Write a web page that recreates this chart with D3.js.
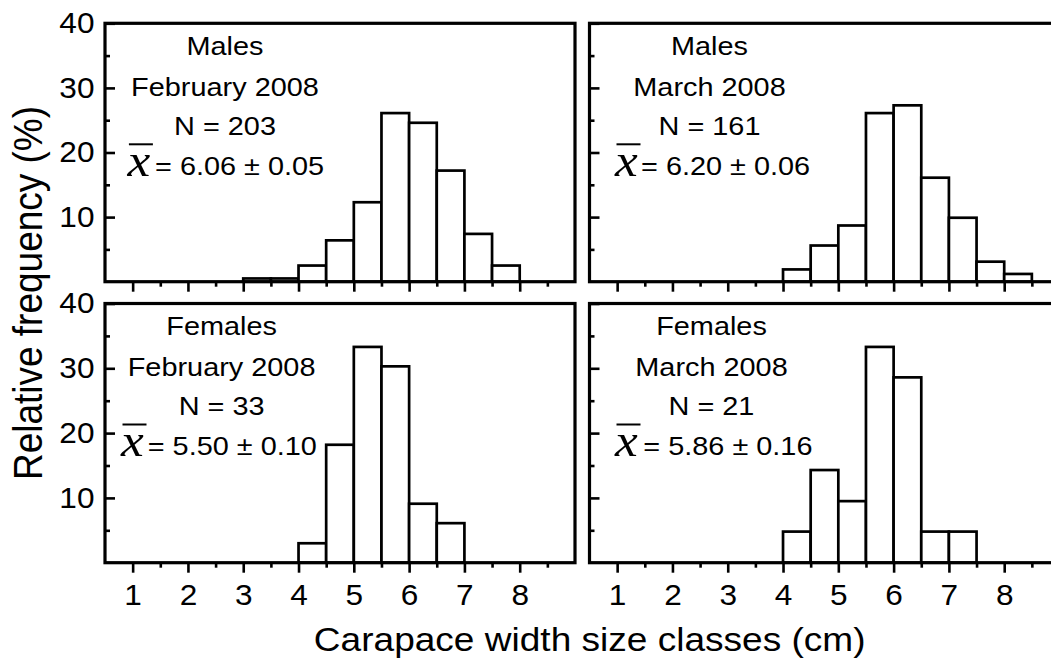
<!DOCTYPE html>
<html>
<head>
<meta charset="utf-8">
<script src="https://cdn.jsdelivr.net/npm/d3@7"></script>
<style>
  html, body { margin: 0; padding: 0; background: #fff; }
  svg { display: block; }
  text { fill: #000; }
</style>
</head>
<body>
<svg id="chart" width="1051" height="661"></svg>
<script>
// Size classes (lower edge of each 0.5 cm class)
const classStarts = [3.0, 3.5, 4.0, 4.5, 5.0, 5.5, 6.0, 6.5, 7.0, 7.5, 8.0];
const classWidth = 0.5;

// Relative frequency (%) per size class
const malesFeb   = [0.5, 0.5, 2.5, 6.4, 12.3, 26.1, 24.6, 17.2, 7.4, 2.5, 0];
const malesMar   = [0, 0, 1.9, 5.6, 8.7, 26.1, 27.3, 16.1, 9.9, 3.1, 1.2];
const femalesFeb = [0, 0, 3.0, 18.2, 33.3, 30.3, 9.1, 6.1, 0, 0, 0];
const femalesMar = [0, 0, 4.8, 14.3, 9.5, 33.3, 28.6, 4.8, 4.8, 0, 0];

// Panel annotations
const panelSex   = ["Males", "Males", "Females", "Females"];
const panelMonth = ["February 2008", "March 2008", "February 2008", "March 2008"];
const panelN     = ["N = 203", "N = 161", "N = 33", "N = 21"];
const panelMean  = ["= 6.06 ± 0.05", "= 6.20 ± 0.06", "= 5.50 ± 0.10", "= 5.86 ± 0.16"];

// Axis ticks
const xTicks = [1, 2, 3, 4, 5, 6, 7, 8];
const xMinorTicks = [1.5, 2.5, 3.5, 4.5, 5.5, 6.5, 7.5, 8.5];
const yTicks = [10, 20, 30, 40];
const yMinorTicks = [5, 15, 25, 35];
const xDomain = [0.5, 9.0];
const yDomain = [0, 40];

const xTitle = "Carapace width size classes (cm)";
const yTitle = "Relative frequency (%)";

// Layout
const SANS = '"Liberation Sans", Arial, sans-serif';
const SERIF = '"Liberation Serif", "Times New Roman", serif';
const SX = 1.09; // horizontal stretch of the lettering
const cols = [[105, 575], [589.5, 1059.5]];
const rows = [[281.7, 23.3], [562.7, 303.5]];

const panels = [
  { vals: malesFeb,   col: 0, row: 0, cx: 225,   xbar: 127.4, eq: 155 },
  { vals: malesMar,   col: 1, row: 0, cx: 709.5, xbar: 615,   eq: 641 },
  { vals: femalesFeb, col: 0, row: 1, cx: 221.6, xbar: 121,   eq: 147.7 },
  { vals: femalesMar, col: 1, row: 1, cx: 711.5, xbar: 615,   eq: 643.3 }
];

const svg = d3.select("#chart");

function stretchedText(parent, x, y, str, size, anchor, extra) {
  const g = parent.append("g").attr("transform", `translate(${x},${y}) scale(${SX},1)${extra || ""}`);
  return g.append("text")
    .style("font-family", SANS)
    .style("font-size", size + "px")
    .attr("text-anchor", anchor)
    .text(str);
}

panels.forEach((p, i) => {
  const x = d3.scaleLinear().domain(xDomain).range(cols[p.col]);
  const y = d3.scaleLinear().domain(yDomain).range(rows[p.row]);
  const g = svg.append("g");

  // bars
  const bars = classStarts.map((s, k) => ({ s, v: p.vals[k] })).filter(d => d.v > 0);
  g.selectAll("rect.bar").data(bars).enter().append("rect")
    .attr("class", "bar")
    .attr("x", d => x(d.s))
    .attr("y", d => y(d.v))
    .attr("width", d => x(d.s + classWidth) - x(d.s))
    .attr("height", d => y(0) - y(d.v))
    .attr("fill", "#fff")
    .attr("stroke", "#000")
    .attr("stroke-width", 2.7);

  // x axis: major and minor ticks pointing outward
  const y0 = y(0);
  const xMajor = d3.axisBottom(x).tickValues(xTicks).tickSize(10).tickPadding(12)
    .tickFormat(p.row === 1 ? d3.format("d") : () => "");
  const xMinor = d3.axisBottom(x).tickValues(xMinorTicks).tickSize(5).tickFormat(() => "");
  [xMajor, xMinor].forEach(ax => {
    const a = g.append("g").attr("transform", `translate(0,${y0})`).call(ax);
    a.select(".domain").remove();
    a.selectAll("line").attr("stroke", "#000").attr("stroke-width", 2.6);
    a.selectAll("text").style("font-size", "29px").style("font-family", SANS).attr("fill", "#000")
      .attr("transform", `scale(${SX},1)`);
  });

  // y axis: ticks pointing inward
  const x0 = x(xDomain[0]);
  const yMajor = d3.axisLeft(y).tickValues(yTicks).tickSize(-10).tickPadding(10.5)
    .tickFormat(p.col === 0 ? d3.format("d") : () => "");
  const yMinor = d3.axisLeft(y).tickValues(yMinorTicks).tickSize(-5).tickFormat(() => "");
  [yMajor, yMinor].forEach(ax => {
    const a = g.append("g").attr("transform", `translate(${x0},0)`).call(ax);
    a.select(".domain").remove();
    a.selectAll("line").attr("stroke", "#000").attr("stroke-width", 2.6);
    a.selectAll("text").style("font-size", "29px").style("font-family", SANS).attr("fill", "#000")
      .each(function () {
        const tx = +d3.select(this).attr("x");
        d3.select(this).attr("transform", `translate(${tx},0) scale(${SX},1) translate(${-tx},0)`);
      });
  });

  // frame
  g.append("rect")
    .attr("x", x(xDomain[0])).attr("y", y(yDomain[1]))
    .attr("width", x(xDomain[1]) - x(xDomain[0]))
    .attr("height", y(yDomain[0]) - y(yDomain[1]))
    .attr("fill", "none").attr("stroke", "#000").attr("stroke-width", 3.2);

  // annotations
  const top = y(yDomain[1]);
  stretchedText(g, p.cx, top + 31.7, panelSex[i], 26.5, "middle");
  stretchedText(g, p.cx, top + 72.4, panelMonth[i], 26.5, "middle");
  stretchedText(g, p.cx, top + 111.7, panelN[i], 26.5, "middle");
  stretchedText(g, p.eq, top + 151.9, panelMean[i], 26.5, "start");
  // mean symbol: italic x with overline
  stretchedText(g, p.xbar, top + 152.9, "x", 47, "start")
    .style("font-family", SERIF)
    .style("font-style", "italic");
  g.append("line")
    .attr("x1", p.xbar + 1.5).attr("x2", p.xbar + 25.5)
    .attr("y1", top + 121).attr("y2", top + 121)
    .attr("stroke", "#000").attr("stroke-width", 2);
});

// axis titles
stretchedText(svg, 589.7, 651, xTitle, 34, "middle");
stretchedText(svg, 41.7, 293, yTitle, 37, "middle", " rotate(-90)");
</script>
</body>
</html>
